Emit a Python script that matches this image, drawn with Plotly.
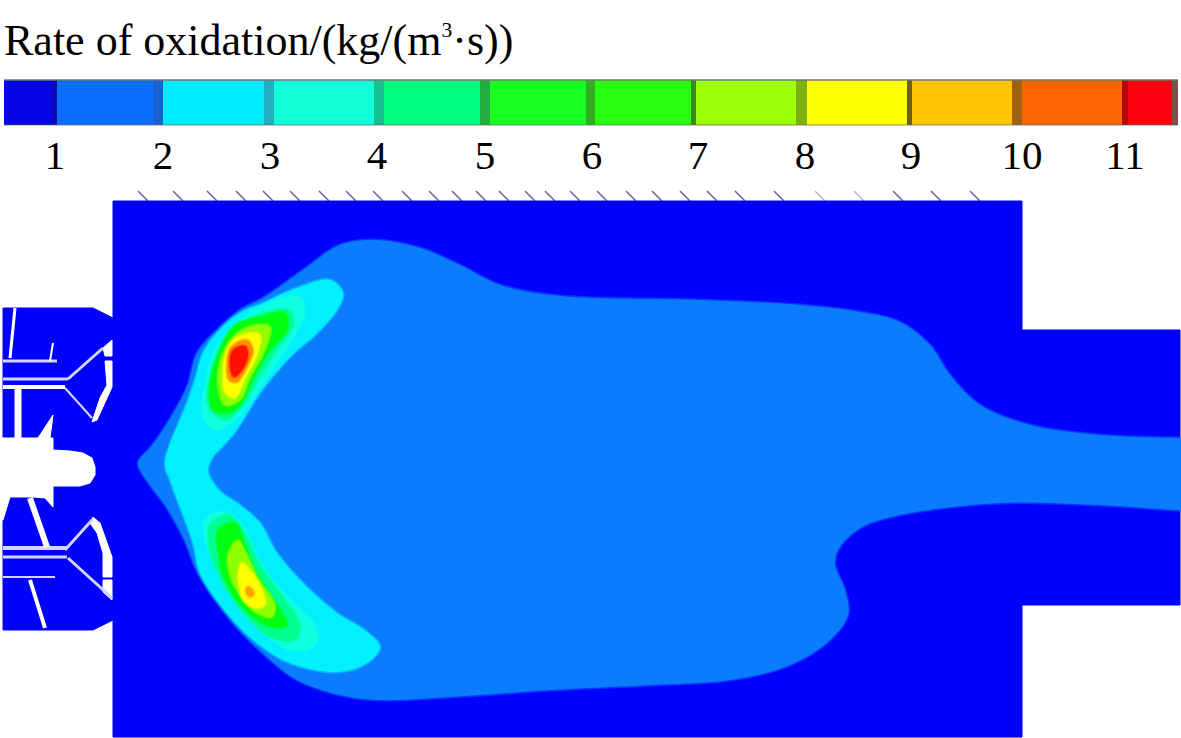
"""
Oxidation rate contour of the combustor, with its discrete colour bar on top.
All positions are read off the picture, so the axes run in picture pixels.
"""
import plotly.graph_objects as go

TITLE = 'Rate of oxidation/(kg/(m<sup><span style="font-size:70%">3</span></sup>·s))'
FONT = "Liberation Serif"

# colour bar
bar_left = [4, 57, 163, 274, 384, 490, 595, 696, 807, 912, 1022, 1128]
bar_right = [52, 153, 264, 374, 480, 586, 691, 796, 907, 1012, 1122, 1172]
bar_colors = ["#0505e6", "#0a6fff", "#00ecff", "#10ffd8", "#00ff80", "#18ff20",
              "#28ff10", "#9cff08", "#ffff00", "#ffc400", "#ff6400", "#ff0010"]
sep_left = [52, 153, 264, 374, 480, 586, 691, 796, 907, 1012, 1122, 1172]
sep_right = [57, 163, 274, 384, 490, 595, 696, 807, 912, 1022, 1128, 1178]
sep_colors = ["#0a0ab0", "#1a60d0", "#20b0c0", "#18c090", "#20b040", "#30b020",
              "#3a8a20", "#80b010", "#6a6010", "#a06010", "#b00808", "#805050"]
tick_x = [55, 163, 270, 377, 485, 592, 698, 805, 911, 1022, 1125]
tick_labels = ["1", "2", "3", "4", "5", "6", "7", "8", "9", "10", "11"]

# wall hatching along the top of the chamber
hatch_x = [138, 173, 207, 236, 263, 290, 319, 346, 373, 402, 429, 452, 476, 499, 525,
           545, 570, 597, 626, 652, 680, 707, 735, 774, 893, 931, 970]
hatch_faint_x = [815, 854]

# blue solid outline
chamber_x = [113, 1022, 1022, 1180, 1180, 1022, 1022, 113]
chamber_y = [201, 201, 330, 330, 605, 605, 737, 737]
inlet_x = [3, 93, 113, 113, 93, 3]
inlet_y = [308, 308, 318, 620, 630, 630]

# contour levels, outer to inner
level2_x = [138, 150, 163, 187, 197, 217, 240, 263, 303, 340, 375, 420, 460, 500, 560, 700,
            800, 860, 900, 930, 950, 980, 1030, 1100, 1180, 1210, 1210, 1180, 1100, 1000, 900,
            860, 838, 835, 845, 848, 830, 790, 730, 650, 550, 450, 380, 340, 297, 267, 233,
            200, 183, 165, 150]
level2_y = [463, 448, 430, 387, 353, 330, 310, 298, 270, 245, 240, 248, 265, 285, 296, 300,
            305, 312, 322, 345, 375, 405, 425, 435, 438, 438, 510, 510, 505, 503, 515,
            528, 550, 565, 590, 615, 640, 665, 680, 685, 690, 697, 700, 695, 680, 657, 623,
            577, 537, 505, 485]
level3_x = [343, 330, 297, 263, 240, 217, 203, 195, 187, 165, 170, 193, 200, 227, 257, 290,
            337, 367, 380, 367, 337, 307, 277, 260, 237, 222, 212, 208, 212, 222, 235, 260,
            290, 317, 337]
level3_y = [293, 280, 288, 303, 313, 333, 353, 380, 403, 463, 480, 543, 573, 613, 643, 663,
            672, 663, 647, 632, 613, 587, 553, 523, 503, 493, 481, 470, 458, 447, 432, 393,
            357, 333, 310]

top4_x = [203, 205, 215, 235, 265, 300, 305, 295, 275, 255, 235, 215]
top4_y = [415, 385, 350, 325, 305, 297, 310, 335, 365, 395, 420, 430]
top5_x = [208, 212, 225, 250, 290, 293, 275, 258, 243, 225]
top5_y = [405, 370, 338, 318, 310, 325, 352, 380, 405, 420]
top6_x = [210, 218, 235, 260, 285, 287, 270, 255, 240, 228, 213]
top6_y = [385, 355, 325, 317, 313, 330, 350, 375, 405, 413, 410]
top7_x = [218, 222, 235, 255, 270, 265, 250, 240, 225]
top7_y = [385, 355, 335, 325, 327, 350, 378, 400, 405]
top8_x = [225, 233, 250, 260, 257, 245, 235, 225, 223]
top8_y = [355, 340, 333, 335, 355, 378, 398, 392, 375]
top9_x = [231, 247, 253, 247, 237, 229, 227]
top9_y = [347, 340, 350, 367, 382, 380, 362]
top11_x = [233, 245, 248, 242, 234, 230]
top11_y = [350, 346, 355, 370, 377, 367]

low4_x = [205, 220, 240, 262, 290, 315, 315, 290, 255, 225, 208]
low4_y = [520, 512, 522, 565, 600, 625, 645, 650, 625, 585, 550]
low5_x = [210, 228, 243, 260, 285, 300, 295, 270, 245, 222, 210]
low5_y = [525, 515, 530, 565, 600, 625, 640, 637, 615, 582, 550]
low6_x = [218, 235, 245, 255, 280, 287, 270, 245, 225, 218]
low6_y = [530, 523, 545, 570, 610, 625, 627, 610, 580, 550]
low7_x = [228, 238, 247, 258, 275, 272, 255, 238, 230]
low7_y = [555, 540, 555, 578, 605, 617, 612, 592, 575]
low8_x = [238, 242, 250, 262, 265, 255, 243, 240]
low8_y = [575, 563, 570, 590, 605, 608, 600, 590]
low9_x = [247, 252, 254, 250, 246]
low9_y = [587, 589, 594, 597, 593]

# white injector cut-outs
nose_x = [0, 53, 53, 70, 83, 92, 95, 95, 90, 80, 53, 53, 45, 33, 10, 3, 0]
nose_y = [438, 438, 450, 451, 453, 458, 467, 475, 483, 486, 486, 507, 498, 497, 497, 520, 520]
wedge_x = [53, 38, 50]
wedge_y = [415, 438, 438]
white_pieces = [
    ([112, 112, 105, 103], [340, 356, 356, 348]),
    ([105, 112, 112, 97, 92, 100, 107], [361, 361, 387, 420, 422, 398, 385]),
    ([93, 100, 112, 112, 103, 103, 97, 90], [517, 523, 557, 577, 577, 553, 533, 523]),
    ([103, 112, 112, 103], [580, 580, 600, 592]),
]
white_lines = [
    ([15, 10], [308, 358], 3),
    ([18, 18], [388, 438], 7),
    ([3, 65], [387, 387], 4),
    ([30, 47], [498, 547], 6),
    ([30, 45], [580, 628], 4),
    ([53, 50], [343, 361], 2),
]
pale_lines = [
    ([3, 57], [361, 361], 3),
    ([3, 68], [379, 379], 3),
    ([68, 103], [379, 348], 3),
    ([65, 92], [388, 418], 2),
    ([3, 67], [548, 548], 4),
    ([3, 67], [557, 557], 3),
    ([3, 55], [577, 577], 2),
    ([65, 92], [550, 520], 3),
    ([68, 112], [558, 598], 3),
]


def add_area(fig, xs, ys, color, shape="spline", edge=1, edge_alpha=1.0):
    # a wide see-through edge softens the contour, as in the blurred original
    r, g, b = int(color[1:3], 16), int(color[3:5], 16), int(color[5:7], 16)
    fig.add_trace(go.Scatter(
        x=xs + xs[:1],
        y=ys + ys[:1],
        mode="lines",
        fill="toself",
        fillcolor=color,
        line=dict(color=f"rgba({r},{g},{b},{edge_alpha})", width=edge, shape=shape, smoothing=1.0),
        hoverinfo="skip",
    ))


def add_contour(fig, xs, ys, color):
    add_area(fig, xs, ys, color, edge=3, edge_alpha=0.45)


def add_line(fig, xs, ys, color, width):
    fig.add_trace(go.Scatter(
        x=xs, y=ys, mode="lines", line=dict(color=color, width=width), hoverinfo="skip",
    ))


def add_hatch(fig, xs, color):
    # short slanted strokes
    hx, hy = [], []
    for x in xs:
        hx += [x, x + 10, None]
        hy += [191, 201, None]
    add_line(fig, hx, hy, color, 1.5)


fig = go.Figure()

# colour bar segments and the darker seams between them
fig.add_trace(go.Bar(
    y=[102.5] * len(bar_left),
    x=[r - l for l, r in zip(bar_left, bar_right)],
    base=bar_left,
    width=45,
    orientation="h",
    marker=dict(color=bar_colors, line=dict(width=0)),
    hoverinfo="skip",
))
fig.add_trace(go.Bar(
    y=[102.5] * len(sep_left),
    x=[r - l for l, r in zip(sep_left, sep_right)],
    base=sep_left,
    width=45,
    orientation="h",
    marker=dict(color=sep_colors, line=dict(width=0)),
    hoverinfo="skip",
))
add_line(fig, [4, 1178], [80, 80], "rgba(110,120,110,0.7)", 2)
add_line(fig, [4, 1178], [125, 125], "rgba(90,100,90,0.7)", 1)

fig.add_trace(go.Scatter(
    x=tick_x,
    y=[159] * len(tick_x),
    mode="text",
    text=tick_labels,
    textposition="middle center",
    textfont=dict(family=FONT, size=41, color="black"),
    hoverinfo="skip",
))

add_hatch(fig, hatch_x, "#6464a0")
add_hatch(fig, hatch_faint_x, "#b4b4d0")

# solid
add_area(fig, chamber_x, chamber_y, "#0000ff", "linear")
add_area(fig, inlet_x, inlet_y, "#0000ff", "linear")

# contours
add_contour(fig, level2_x, level2_y, "#0a7dff")
add_contour(fig, level3_x, level3_y, "#00f0ff")
add_contour(fig, top4_x, top4_y, "#10ffe0")
add_contour(fig, top5_x, top5_y, "#00ff90")
add_contour(fig, top6_x, top6_y, "#00ff10")
add_contour(fig, top7_x, top7_y, "#90ff00")
add_contour(fig, top8_x, top8_y, "#ffff00")
add_contour(fig, top9_x, top9_y, "#ff9000")
add_contour(fig, top11_x, top11_y, "#ff1000")
add_contour(fig, low4_x, low4_y, "#10ffe0")
add_contour(fig, low5_x, low5_y, "#00ff90")
add_contour(fig, low6_x, low6_y, "#00ff10")
add_contour(fig, low7_x, low7_y, "#90ff00")
add_contour(fig, low8_x, low8_y, "#ffff00")
add_contour(fig, low9_x, low9_y, "#ffa000")

# injector details
add_area(fig, nose_x, nose_y, "#ffffff", "linear")
add_area(fig, wedge_x, wedge_y, "#ffffff", "linear")
for xs, ys in white_pieces:
    add_area(fig, xs, ys, "#ffffff", "linear")
for xs, ys, w in pale_lines:
    add_line(fig, xs, ys, "#d4d4ff", w)
for xs, ys, w in white_lines:
    add_line(fig, xs, ys, "#ffffff", w)

fig.add_annotation(
    x=2, y=40, xref="x", yref="y", xanchor="left", yanchor="middle",
    text=TITLE, showarrow=False,
    font=dict(family=FONT, size=44, color="black"),
)

fig.update_layout(
    width=1181,
    height=738,
    margin=dict(l=0, r=0, t=0, b=0),
    paper_bgcolor="white",
    plot_bgcolor="white",
    showlegend=False,
    barmode="overlay",
    xaxis=dict(range=[0, 1181], visible=False, fixedrange=True),
    yaxis=dict(range=[738, 0], visible=False, fixedrange=True),
)

fig.write_html(
    "out.html",
    config={"displayModeBar": False},
    post_script="document.body.style.margin='0';",
)
